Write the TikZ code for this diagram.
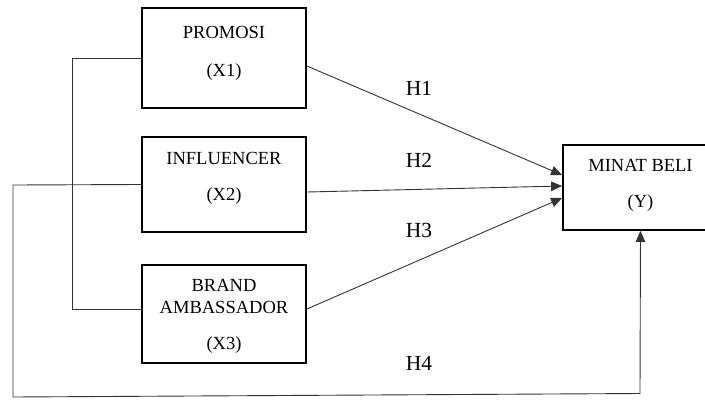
\documentclass[tikz,border=0pt]{standalone}
\usepackage{fontspec}
\setmainfont{Liberation Serif}
\usetikzlibrary{arrows.meta}
\begin{document}
\begin{tikzpicture}[x=1pt,y=-1pt,
  box/.style={draw,line width=1.8pt,rectangle,inner sep=0pt},
  btext/.style={font=\fontsize{18.5}{22}\selectfont,inner sep=0pt},
  hlab/.style={font=\fontsize{21.5}{25}\selectfont,inner sep=0pt},
  conn/.style={line width=0.9pt,draw=black!80},
  arr/.style={conn,-{Triangle[length=11pt,width=9.5pt]}}]
\clip (0,0) rectangle (705,400);
\useasboundingbox (0,0) rectangle (705,400);
% boxes
\node[box,minimum width=164pt,minimum height=100pt] (P) at (224,58) {};
\node[box,minimum width=164pt,minimum height=95pt] (I) at (224,184.5) {};
\node[box,minimum width=164pt,minimum height=98pt] (B) at (224,314) {};
\node[box,minimum width=155pt,minimum height=85pt] (Y) at (640.5,187.5) {};
% texts
\node[btext] (tp1) at (224,32) {PROMOSI};
\node[btext] (tp2) at (224,72) {(X1)};
\node[btext] (ti1) at (224,158) {INFLUENCER};
\node[btext] (ti2) at (224,196) {(X2)};
\node[btext] (tb1) at (224,285) {BRAND};
\node[btext] (tb2) at (224,307) {AMBASSADOR};
\node[btext] (tb3) at (224,345) {(X3)};
\node[btext] (ty1) at (640.5,165) {MINAT BELI};
\node[btext] (ty2) at (640.5,203) {(Y)};
% hypothesis labels
\node[hlab] (h1) at (419,88) {H1};
\node[hlab] (h2) at (419,160) {H2};
\node[hlab] (h3) at (419,230) {H3};
\node[hlab] (h4) at (419,363) {H4};
% coordinates
\coordinate (c1) at (72,58);
\coordinate (c2) at (13,185);
\coordinate (c3) at (13,397);
\coordinate (c4) at (640,393.5);
% connectors
\draw[conn] (P.west) -- (c1) |- ([yshift=5pt]B.west);
\draw[arr] (I.west) -- (c2) -- (c3) -- (c4) -- (Y.south);
\draw[arr] ([yshift=-8pt]P.east) -- ([yshift=12.5pt]Y.west);
\draw[arr] ([yshift=-7.5pt]I.east) -- ([yshift=1.5pt]Y.west);
\draw[arr] ([yshift=5pt]B.east) -- ([yshift=-10.5pt]Y.west);
\end{tikzpicture}
\end{document}
